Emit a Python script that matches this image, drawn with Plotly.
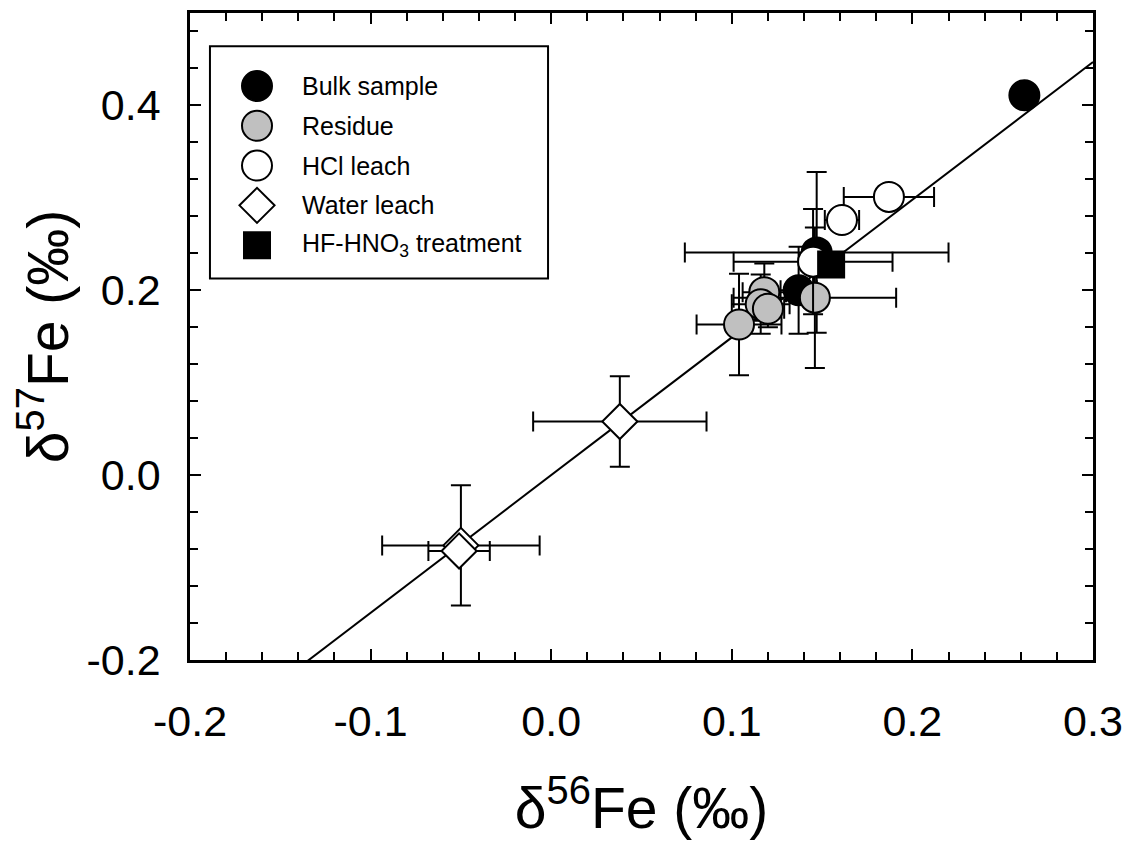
import plotly.graph_objects as go

# ---------------- data ----------------
bulk_x = [0.262, 0.147, 0.137]
bulk_y = [0.411, 0.241, 0.200]
bulk_xerr = [0.0, 0.073, 0.010]
bulk_yerr = [0.0, 0.087, 0.047]

residue_x = [0.118, 0.116, 0.120, 0.104, 0.146]
residue_y = [0.198, 0.185, 0.180, 0.163, 0.192]
residue_xerr = [0.012, 0.016, 0.009, 0.0235, 0.045]
residue_yerr = [0.031, 0.032, 0.020, 0.055, 0.076]

hcl_x = [0.187, 0.161, 0.145]
hcl_y = [0.301, 0.276, 0.231]
hcl_xerr = [0.025, 0.0095, 0.044]
hcl_yerr = [0.005, 0.005, 0.057]

water_x = [0.038, -0.050, -0.051]
water_y = [0.058, -0.076, -0.082]
water_xerr = [0.048, 0.0436, 0.017]
water_yerr = [0.049, 0.065, 0.005]

hf_x = [0.155]
hf_y = [0.228]

fit_slope = 1.49
fit_intercept = 0.0

x_range = [-0.2, 0.3]
y_range = [-0.2, 0.5]
x_tickvals = [-0.2, -0.1, 0.0, 0.1, 0.2, 0.3]
x_ticktext = ["-0.2", "-0.1", "0.0", "0.1", "0.2", "0.3"]
y_tickvals = [-0.2, 0.0, 0.2, 0.4]
y_ticktext = ["-0.2", "0.0", "0.2", "0.4"]

legend_labels = ["Bulk sample", "Residue", "HCl leach", "Water leach",
                 "HF-HNO<sub>3</sub> treatment"]

# ---------------- styles ----------------
FONT = "Liberation Sans, Arial, sans-serif"
styles = [
    dict(symbol="circle", size=30, color="black"),
    dict(symbol="circle", size=30, color="#c0c0c0"),
    dict(symbol="circle", size=30, color="white"),
    dict(symbol="diamond", size=27, color="white"),
    dict(symbol="square", size=26, color="black"),
]

def err(arr):
    return dict(type="data", array=arr, visible=True, color="black",
                thickness=2, width=10)

fig = go.Figure()

# regression line
fx = [x_range[0], x_range[1]]
fy = [fit_slope * v + fit_intercept for v in fx]
fig.add_trace(go.Scatter(x=fx, y=fy, mode="lines",
                         line=dict(color="black", width=2), showlegend=False))

series = [
    (bulk_x, bulk_y, bulk_xerr, bulk_yerr),
    (residue_x, residue_y, residue_xerr, residue_yerr),
    (hcl_x, hcl_y, hcl_xerr, hcl_yerr),
    (water_x, water_y, water_xerr, water_yerr),
    (hf_x, hf_y, None, None),
]
for (sx, sy, sxe, sye), st, name in zip(series, styles, legend_labels):
    kw = {}
    if sxe is not None:
        kw["error_x"] = err(sxe)
        kw["error_y"] = err(sye)
    fig.add_trace(go.Scatter(
        x=sx, y=sy, mode="markers", name=name, showlegend=False,
        marker=dict(symbol=st["symbol"], size=st["size"], color=st["color"],
                    line=dict(color="black", width=2)),
        **kw))

# ---------------- custom legend ----------------
leg_x0, leg_x1 = 0.0221, 0.3965
leg_y0, leg_y1 = 0.5897, 0.9488
row_top = 0.8872
row_step = 0.0615
mk_x = 0.0742
txt_x = 0.1218
for i, (st, name) in enumerate(zip(styles, legend_labels)):
    ry = row_top - i * row_step
    fig.add_trace(go.Scatter(
        x=[mk_x], y=[ry], mode="markers", xaxis="x2", yaxis="y2",
        showlegend=False, hoverinfo="skip",
        marker=dict(symbol=st["symbol"], size=st["size"], color=st["color"],
                    line=dict(color="black", width=2))))
    fig.add_annotation(x=txt_x, y=ry, xref="paper", yref="paper",
                       text=name, showarrow=False, xanchor="left",
                       yanchor="middle",
                       font=dict(family=FONT, size=25, color="black"))
fig.add_shape(type="rect", xref="paper", yref="paper",
              x0=leg_x0, x1=leg_x1, y0=leg_y0, y1=leg_y1,
              line=dict(color="black", width=2))

axis_common = dict(
    showline=True, linecolor="black", linewidth=2.5, mirror="ticks",
    ticks="inside", ticklen=11, tickwidth=2, tickcolor="black",
    showgrid=False, zeroline=False,
    tickfont=dict(family=FONT, size=43, color="black"),
)

fig.update_layout(
    width=1140, height=842,
    margin=dict(l=182, r=55, t=2, b=190),
    paper_bgcolor="white", plot_bgcolor="white",
    showlegend=False,
    xaxis=dict(range=x_range, tickmode="array", tickvals=x_tickvals,
               ticktext=x_ticktext,
               minor=dict(dtick=0.02, tick0=0, ticks="inside", ticklen=8,
                          tickwidth=2, tickcolor="black"),
               ticklabelstandoff=22,
               title=dict(text="\u03b4<sup>56</sup>Fe (\u2030)", standoff=44,
                          font=dict(family=FONT, size=57, color="black")),
               **axis_common),
    yaxis=dict(range=y_range, tickmode="array", tickvals=y_tickvals,
               ticktext=y_ticktext,
               minor=dict(dtick=0.04, tick0=0, ticks="inside", ticklen=8,
                          tickwidth=2, tickcolor="black"),
               ticklabelstandoff=18,
               title=dict(text="\u03b4<sup>57</sup>Fe (\u2030)", standoff=12,
                          font=dict(family=FONT, size=57, color="black")),
               **axis_common),
    xaxis2=dict(overlaying="x", range=[0, 1], visible=False),
    yaxis2=dict(overlaying="y", range=[0, 1], visible=False),
)

fig.write_html("out.html")
